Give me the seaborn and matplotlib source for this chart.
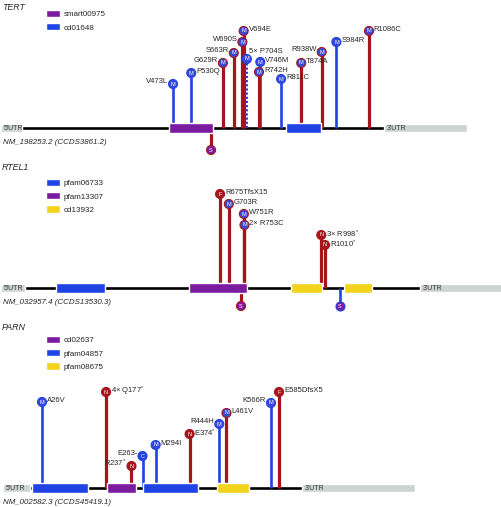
import pandas as pd
import matplotlib
matplotlib.use("Agg")
import matplotlib.pyplot as plt
from matplotlib.patches import Patch
import seaborn as sns

sns.set_style("white")
plt.rcParams['font.family'] = ['Liberation Sans', 'DejaVu Sans']
plt.rcParams['mathtext.fontset'] = 'custom'
plt.rcParams['mathtext.rm'] = 'Liberation Sans'
plt.rcParams['mathtext.default'] = 'regular'

W, H = 502, 507

red = "#a5161c"
blue = "#1f43e5"
purple = "#7b1b9f"
yellow = "#f3d31c"
grey = "#ced3d3"
stem_col = {"r": red, "b": blue}
head_col = {"M": "#3a48d8", "N": red, "F": red, "S": purple, "C": blue}

########## TERT ##########
tert_pos = [473, 530, 629, 663, 690, 694, 704, 746, 742, 811, 874, 938, 984, 1086, 592]
tert_lab = ["V473L", "P530Q", "G629R", "S663R", "W690S", "V694E", "5× P704S", "V746M",
            "R742H", "R811C", "T874A", "R938W", "S984R", "R1086C", ""]
tert_kind = ["M"] * 14 + ["S"]
tert_cls = ["b", "b", "r", "r", "r", "r", "b", "b", "r", "b", "r", "r", "b", "r", "r"]
tert_h = [44, 55, 65, 75, 86, 97, 69, 66, 56, 49, 65, 76, 86, 97, -22]
tert_side = ["L", "R", "L", "L", "L", "R", "R", "R", "R", "R", "R", "L", "R", "R", ""]
tert_dom = ["smart00975", "cd01648"]
tert_dom_start = [460, 826]
tert_dom_end = [598, 936]
tert_utr = [-65, 1, 1132, 1392]   # 5'UTR start, CDS start, CDS end, 3'UTR end
tert_pal = {"smart00975": purple, "cd01648": blue}

########## RTEL1 ##########
rtel_pos = [675, 703, 751, 753, 998, 1010, 742, 1058]
rtel_lab = ["R675TfsX15", "G703R", "W751R", "2× R753C", "3× R998$^{*}$", "R1010$^{*}$", "", ""]
rtel_kind = ["F", "M", "M", "M", "N", "N", "S", "S"]
rtel_cls = ["r", "r", "r", "r", "r", "r", "r", "b"]
rtel_h = [94, 84, 74, 63, 53, 43, -18, -18]
rtel_side = ["R", "R", "R", "R", "R", "R", "", ""]
rtel_dom = ["pfam06733", "pfam13307", "cd13932", "cd13932"]
rtel_dom_start = [152, 576, 901, 1071]
rtel_dom_end = [308, 761, 1000, 1160]
rtel_utr = [-24, 53, 1313, 1650]
rtel_pal = {"pfam06733": blue, "pfam13307": purple, "cd13932": yellow}

########## PARN ##########
parn_pos = [26, 177, 237, 263, 294, 374, 444, 461, 566, 585]
parn_lab = ["A26V", "4× Q177$^{*}$", "R237$^{*}$", "E263-", "M294I", "E374$^{*}$",
            "R444H", "L461V", "K566R", "E585DfsX5"]
parn_kind = ["M", "N", "N", "C", "M", "N", "M", "M", "M", "F"]
parn_cls = ["b", "r", "r", "b", "b", "r", "b", "r", "b", "r"]
parn_h = [86, 96, 22, 32, 43, 54, 64, 75, 85, 96]
parn_side = ["R", "R", "L", "L", "R", "R", "L", "R", "L", "R"]
parn_dom = ["pfam04857", "cd02637", "pfam04857", "pfam08675"]
parn_dom_start = [2, 179, 264, 439]
parn_dom_end = [134, 248, 394, 514]
parn_utr = [-66, -2, 639, 905]
parn_pal = {"cd02637": purple, "pfam04857": blue, "pfam08675": yellow}

dotted = {"5× P704S"}
nudge = {"5× P704S": (1.5, 5.5)}


def px(x, y):
    return x / W, 1 - y / H


def draw_gene(fig, name, tx, pos, lab, kind, cls, h, side, dom, ds, de, utr, pal,
              origin, scale, base, top, bottom, leg_y):
    ax = fig.add_axes([0, 1 - bottom / H, 1, (bottom - top) / H])
    ax.set_xlim(-origin / scale, (W - origin) / scale)
    ax.set_ylim(base - bottom, base - top)
    ax.axis("off")

    # backbone, UTRs, domains
    ax.hlines(0, utr[1], utr[2], color="black", lw=1.9, zorder=1)
    ax.barh(0, utr[1] - utr[0], left=utr[0], height=7.5, color=grey, zorder=1)
    ax.barh(0, utr[3] - utr[2], left=utr[2], height=7.5, color=grey, zorder=1)
    ax.annotate("5'UTR", (utr[0], 0), xytext=(2, 0), textcoords="offset points",
                va="center", fontsize=5, color="#333333")
    ax.annotate("3'UTR", (utr[2], 0), xytext=(2, 0), textcoords="offset points",
                va="center", fontsize=5, color="#333333")
    for d, a, b in zip(dom, ds, de):
        ax.barh(0, b - a, left=a, height=9.4, color=pal[d], zorder=3)

    df = pd.DataFrame(dict(pos=pos, lab=lab, kind=kind, cls=cls, h=h, side=side))
    for c, sub in df.groupby("cls"):
        lw = 2.3 if c == "r" else 1.9
        solid = sub[~sub.lab.isin(dotted)]
        dots = sub[sub.lab.isin(dotted)]
        ax.vlines(solid.pos, 0, solid.h, color=stem_col[c], lw=lw, zorder=2)
        ax.vlines(dots.pos, 0, dots.h, color=stem_col[c], lw=1.5, linestyle=(0, (1, 1)), zorder=2)
        sns.scatterplot(data=sub, x="pos", y="h", hue="kind", palette=head_col, s=42,
                        edgecolor=stem_col[c], linewidth=0.8, legend=False, ax=ax, zorder=4)

    for r in df.itertuples():
        ax.text(r.pos, r.h, r.kind, ha="center", va="center", fontsize=4, color="white", zorder=5)
        if not r.lab:
            continue
        if r.lab in nudge:
            dx, dy = nudge[r.lab]
        elif r.side == "L":
            dx, dy = -3.5, 2
        else:
            dx, dy = 3.5, 0.8
        ax.annotate(r.lab, (r.pos, r.h), xytext=(dx, dy), textcoords="offset points",
                    ha="left" if dx > 0 else "right", va="center", fontsize=5.5, zorder=6)

    ax.set_xlabel("")
    ax.set_ylabel("")

    # gene name, transcript, legend
    fig.text(*px(2, top + 8), name, style="italic", fontsize=6.4, va="center")
    fig.text(*px(3, base + 14), tx, style="italic", fontsize=5.7, va="center")
    handles = [Patch(facecolor=pal[k], label=k) for k in pal]
    ax.legend(handles=handles, loc="upper left", bbox_to_anchor=px(46, leg_y),
              bbox_transform=fig.transFigure, frameon=False, fontsize=5.8,
              handlelength=1.7, handleheight=1.0, labelspacing=0.6,
              handletextpad=0.45, borderpad=0, borderaxespad=0)


fig = plt.figure(figsize=(W / 100, H / 100), dpi=100)
draw_gene(fig, "TERT", "NM_198253.2 (CCDS3861.2)", tert_pos, tert_lab, tert_kind, tert_cls,
          tert_h, tert_side, tert_dom, tert_dom_start, tert_dom_end, tert_utr, tert_pal,
          21.8, 0.3197, 128, 0, 160, 10)
draw_gene(fig, "RTEL1", "NM_032957.4 (CCDS13530.3)", rtel_pos, rtel_lab, rtel_kind, rtel_cls,
          rtel_h, rtel_side, rtel_dom, rtel_dom_start, rtel_dom_end, rtel_utr, rtel_pal,
          8.5, 0.3134, 288, 160, 320, 179)
draw_gene(fig, "PARN", "NM_002582.3 (CCDS45419.1)", parn_pos, parn_lab, parn_kind, parn_cls,
          parn_h, parn_side, parn_dom, parn_dom_start, parn_dom_end, parn_utr, parn_pal,
          31.0, 0.424, 488, 320, 507, 336)

plt.savefig("out.png", dpi=100)
